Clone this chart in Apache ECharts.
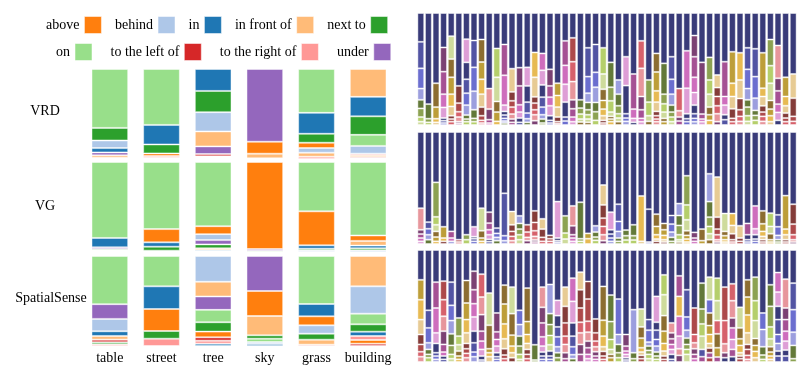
<!DOCTYPE html>
<html>
<head>
<meta charset="utf-8">
<script src="https://cdn.jsdelivr.net/npm/echarts@6/dist/echarts.min.js"></script>
<style>
  html, body { margin: 0; background: #fff; }
  #chart { width: 797px; height: 374px; }
</style>
</head>
<body>
<div id="chart"></div>
<script>
  // ---- left block: predicate share per object, per dataset ----
  const predicates = ['above', 'behind', 'in', 'in front of', 'next to', 'on', 'to the left of', 'to the right of', 'under']
  const predColors = ['#ff7f0e', '#aec7e8', '#1f77b4', '#ffbb78', '#2ca02c', '#98df8a', '#d62728', '#ff9896', '#9467bd']
  const objects = ['table', 'street', 'tree', 'sky', 'grass', 'building']
  const datasetNames = ['VRD', 'VG', 'SpatialSense']

  // one row per object, values in predicate order
  const vrd = [
    [1, 23, 13, 7, 38, 178, 1, 2, 9],
    [8, 1, 59, 3, 27, 169, 0, 5, 0],
    [3, 58, 66, 45, 64, 2, 7, 3, 23],
    [36, 2, 0, 14, 0, 0, 0, 0, 219],
    [16, 14, 63, 12, 27, 132, 0, 7, 0],
    [4, 23, 58, 83, 55, 33, 4, 5, 3],
  ]
  const vg = [
    [3, 0, 28, 2, 4, 227, 0, 0, 5],
    [40, 2, 13, 1, 12, 202, 0, 1, 0],
    [24, 18, 4, 5, 12, 194, 1, 1, 13],
    [261, 0, 0, 0, 0, 4, 0, 0, 5],
    [102, 4, 10, 1, 5, 148, 0, 0, 0],
    [16, 5, 8, 14, 6, 218, 0, 0, 0],
  ]
  const spatialSense = [
    [0, 37, 14, 11, 6, 144, 8, 5, 44],
    [66, 0, 68, 0, 23, 91, 0, 22, 0],
    [17, 77, 7, 44, 28, 37, 10, 9, 40],
    [75, 6, 6, 58, 10, 10, 0, 0, 105],
    [27, 25, 37, 15, 18, 144, 4, 0, 0],
    [11, 82, 13, 91, 22, 32, 7, 12, 0],
  ]

  // ---- right block: 50 objects per dataset, segments listed top -> bottom ----
  const tab20b = ['#393b79', '#5254a3', '#6b6ecf', '#9c9ede', '#637939', '#8ca252', '#b5cf6b', '#cedb9c',
    '#8c6d31', '#bd9e39', '#e7ba52', '#e7cb94', '#843c39', '#ad494a', '#d6616b', '#e7969c',
    '#7b4173', '#a55194', '#ce6dbd', '#de9ed6']

  const vrdSubjColors = [
    [0,1,2,3,4,5,6,7],[0,4,5,6],[0,8,9,10,11],[0,16,17,18,19,0,1,2],[0,7,8,9,10,11,12,13,14],
    [0,12,13,14,15,16,17],[0,19,0,1,2,3,4,5,6],[0,1,2,3,4,5,6],[0,8,9,10,11,12,13,14,15],[0,15,16,17,18],
    [0,6,7,8,9,10],[0,17,18,19,0,1,2,3,4],[0,11,12,13,14,15,16,17],[0,16,17,18,19,0,1],[0,19,0,1,2,3,4],
    [0,10,11,12,13,14,15,16],[0,18,19,0,1,2,3,4,5],[0,16,17,18,19,0,1,2],[0,9,10,11,12,13,14],[0,17,18,19,0,1,2],
    [0,13,14,15,16,17,18,19],[0,4,5,6,7,8],[0,1,2,3,4,5,6,7,8],[0,1,2,3,4,5,6],[0,6,7,8,9,10,11,12,13],
    [0,4,5,6,7,8,9,10],[0,3,4,5,6,7,8],[0,19,0,1,2,3],[0,17,18,19,0],[0,14,15,16,17,18,19],
    [0,5,6,7,8],[0,8,9,10,11,12,13,14,15],[0,4,5,6,7,8,9],[0,1,2,3,4,5,6,7],[0,14,15,16,17],
    [0,18,19,0,1,2],[0,16,17,18,19,0,1,2,3],[0,16,17,18,19],[0,5,6,7,8,9,10],[0,11,12,13,14,15,16],
    [0,17,18,19,0,1],[0,9,10,11,12,13,14],[0,10,11,12,13,14,15],[0,1,2,3,4,5,6,7],[0,1,2,3,4,5,6],
    [0,9,10,11,12,13,14,15],[0,5,6,7,8,9,10,11],[0,15,16,17,18,19,0],[0,9,10,11,12,13,14],[0,11,12,13,14],
  ]
  const vrdSubjShares = [
    [87,80,61,34,26,26,14,10],[275,44,11,8],[212,72,35,11,8],[104,73,68,40,32,8,7,6],[70,69,55,51,37,28,10,8,10],
    [220,52,26,16,14,5,5],[79,70,51,42,36,30,12,8,10],[83,81,72,56,26,10,10],[80,68,52,45,39,26,14,8,6],[228,62,32,10,6],
    [107,87,73,32,28,11],[95,93,90,19,11,10,8,6,6],[168,70,27,19,21,15,10,8],[165,55,57,22,18,13,8],[164,56,49,33,17,11,8],
    [119,75,59,19,20,15,18,13],[122,51,44,37,30,23,13,12,6],[170,50,34,26,30,14,8,6],[212,37,35,30,14,6,4],[84,74,57,54,45,12,12],
    [75,72,60,55,27,25,14,10],[262,25,18,15,9,9],[105,87,50,28,22,15,13,10,8],[95,84,45,46,28,26,14],[105,79,46,34,26,20,14,8,6],
    [149,75,41,34,13,8,8,10],[202,43,35,24,13,11,10],[132,87,85,13,10,11],[184,106,28,12,8],[84,83,85,40,26,10,10],
    [202,67,41,17,11],[122,56,57,34,28,13,10,8,10],[152,93,29,25,19,10,10],[132,68,45,33,21,15,14,10],[228,67,19,12,12],
    [114,113,77,15,9,10],[68,64,62,46,38,26,14,10,10],[149,156,15,8,10],[134,68,43,39,23,17,14],[187,38,27,28,24,24,10],
    [147,105,26,29,15,16],[117,95,40,37,29,10,10],[120,82,56,34,20,15,11],[105,65,58,34,22,26,17,11],[108,84,65,37,15,15,14],
    [120,107,25,28,19,13,15,11],[80,79,53,52,26,20,18,10],[98,99,38,40,25,24,14],[194,58,28,22,15,11,10],[184,73,55,15,11],
  ]

  const vgSubjColors = [
    [0,15,16,17,18,19],[0,1,2,3,4],[0,5,6,7,8,9,10],[0,9,10,12],[0,17,18,3],
    [0,13,14],[0,5,6],[0,19,0,1,2],[0,7,8,9,10],[0,16,17,18,19,0,1],
    [0,1,2,3,4],[0,1,2,3],[0,11,12,13,14,15],[0,3,4,5,6,7],[0,13,14,15,16],
    [0,12,13,14,15,16,17],[0,11,12,13,14],[0,12,13,14],[0,19,0,1,2],[0,5,6,7],
    [0,15,16,17,18,19],[0,4,5,6],[0,9,10],[0,3,4,5,6],[0,11,12,13,14,15,16],
    [0,19,0,1,2,3],[0,1,2,3,4,5],[0,4,5,6],[0,4,5,6],[0,10,11],
    [0,0,3],[0,8,9,10,11,12],[0,8,9,10,11,12],[0,1,2,3,4,5],[0,3,4,5,6,7,8],
    [0,5,6,7,8,9,10,11],[0,16,17,18],[0,8,9],[0,3,4,5,6,7,8],[0,11,12,13,14,15,16],
    [0,7,8,9,10,11],[0,10,11,12,13,14],[0,11,12,13],[0,17,0,1,2],[0,18,19,0,1,2],
    [0,8,9,10,11,12,13],[0,6,7,8,9,10],[0,1,2,3,4,5],[0,9,10,11,12,13],[0,12,13,14,15,16],
  ]
  const vgSubjShares = [
    [230,65,13,12,10,8],[272,20,18,15,13],[152,104,24,20,17,13,8],[286,34,10,8],[300,20,10,8],
    [325,7,6],[310,15,13],[286,30,6,8,8],[230,68,22,10,8],[242,33,20,15,14,7,7],
    [290,16,12,10,10],[185,128,15,10],[240,40,20,15,13,10],[253,23,17,17,15,13],[280,22,16,10,10],
    [238,35,25,17,11,6,6],[262,31,25,12,8],[312,10,8,8],[210,110,8,5,5],[253,52,18,15],
    [223,60,27,10,10,8],[212,110,8,8],[306,16,16],[283,19,15,10,11],[160,60,40,25,25,18,10],
    [242,53,13,12,10,8],[218,52,30,20,10,8],[296,17,13,12],[280,33,13,12],[193,137,8],
    [233,99,6],[248,37,25,13,7,8],[276,19,17,13,7,6],[252,26,24,16,12,8],[216,36,30,28,15,7,6],
    [132,88,45,33,14,11,9,6],[303,17,10,8],[293,35,10],[126,84,47,28,22,18,13],[136,121,36,17,15,7,6],
    [246,54,13,12,7,6],[246,36,25,18,7,6],[283,37,10,8],[276,34,15,7,6],[223,69,18,13,7,8],
    [238,39,23,15,10,7,6],[245,40,22,18,7,6],[250,36,26,13,7,6],[192,101,17,15,7,6],[218,60,32,15,7,6],
  ]

  const ssSubjColors = [
    [0,9,10,11,12,13,14,15],[0,1,2,3,4,5,6],[0,17,18,19,0,1,2,3],[0,13,14,15,16,17,18,0,1],[0,1,2,3,4,5,6,7],
    [0,5,6,7,8,9,10],[0,8,9,10,11,12,13,14,15],[0,16,17,18,19,0,1,2,3],[0,14,15,16,17,18,19,0,1],[0,7,8,9,10,11],
    [0,16,17,18,19,0,1,2],[0,8,9,10,11,12,13,14],[0,7,8,9,10,11,12],[0,2,3,4,5,6,7],[0,8,9,10,11,12,13,14],
    [0,4,5],[0,15,16,17,18,19,0,1,2],[0,3,4,5,6,7,0,1,2],[0,19,0,1,2,3,4,5],[0,11,12,13,14,15,16,17],
    [0,18,19,0,1,2,3,4],[0,11,12,13,14,15,16,17],[0,12,13,14,15,16,17,18,19],[0,12,13,14,15,16,17,18],[0,8,9,10,11,12,13,14],
    [0,4,5,6,7,8,9],[0,2,3,4,5,6],[0,16,17,18,19,0,1],[0,3,4,5],[0,7,8,9,10,11,12,13],
    [0,1,2,3,4,5,6,7],[0,19,0,1,2,3,4,5,6],[0,6,7,8,9,10,11,12,13],[0,15,16,17,18,19,0,1],[0,17,10,18,19,15,16],
    [0,1,2,3,4,5,6,7],[0,13,14,15,16,17,18],[0,4,5,6,7,1,17],[0,7,2,8,9,10,11,12,17,13],[0,6,7,14,8,9,17],
    [0,13,14,15,16,0],[0,14,15,16,18,19,17,0],[0,7,8,9,10,11,12,13],[0,8,9,10,11,12,13,14,15],[0,5,6,7,8,9,10,11],
    [0,2,3,4,5,6],[0,4,5,6,7,8,9,10,11],[0,18,19,0,1,2,3,0,1],[0,15,16,17,18,19,0,1],[0,1,2,3,4,5],
  ]
  const ssSubjShares = [
    [90,60,60,45,30,22,15,16],[182,53,45,20,15,10,13],[97,78,75,32,28,10,10,8],[94,56,50,45,40,23,12,10,8],[97,70,46,40,35,27,13,10],
    [205,55,26,19,15,10,8],[92,68,50,40,32,16,14,13,13],[64,56,42,40,43,35,28,14,16],[73,69,53,50,30,25,20,12,6],[130,97,71,12,12,16],
    [190,57,23,20,20,12,8,8],[106,57,60,45,30,19,11,10],[112,80,65,33,20,15,13],[182,43,35,30,25,15,8],[115,101,39,27,18,15,13,10],
    [286,46,6],[112,61,47,42,28,18,12,10,8],[104,88,33,33,28,19,15,10,8],[152,46,34,30,30,18,15,13],[112,58,50,40,25,25,18,10],
    [85,70,65,40,32,24,12,10],[67,53,55,43,32,35,30,23],[95,53,67,33,27,20,20,13,10],[208,42,25,17,15,13,10,8],[110,102,48,32,14,14,10,8],
    [136,80,54,30,15,10,13],[148,107,30,25,15,13],[255,35,15,10,10,7,6],[180,130,18,10],[178,54,34,29,13,10,10,10],
    [210,32,36,12,13,12,13,10],[140,78,24,28,20,18,12,10,8],[75,60,63,47,37,23,15,10,8],[220,30,18,17,15,15,15,8],[78,62,60,60,38,20,20],
    [120,82,40,24,19,15,15,23],[175,80,25,18,17,13,10],[100,78,45,37,40,22,16],[82,68,40,38,27,27,14,14,15,13],[85,68,60,40,42,28,15],
    [112,101,70,27,15,13],[102,51,52,30,35,30,22,16],[173,62,33,20,22,10,8,10],[90,52,54,54,35,15,18,12,8],[82,71,60,54,21,18,19,13],
    [190,50,52,25,13,8],[105,65,62,36,24,16,12,10,8],[68,59,43,40,45,27,23,15,18],[88,87,35,35,30,27,18,18],[100,80,68,40,40,10],
  ]

  const FONT = 'Liberation Serif'
  const EDGE = { borderColor: 'rgba(255,255,255,0.45)', borderWidth: 1 }

  // predicates sorted per bar: largest on top
  function predSegments(rows) {
    return rows.map((vals) => {
      const idx = vals.map((v, i) => i).filter((i) => vals[i] > 0)
      idx.sort((a, b) => vals[b] - vals[a] || a - b)
      return idx.map((i) => ({ v: vals[i], color: predColors[i] }))
    })
  }

  function subjSegments(colors, shares) {
    return shares.map((hs, b) => hs.map((v, k) => ({ v, color: tab20b[colors[b][k]] })))
  }

  // segs[i] listed top -> bottom; build one stacked series per level (bottom first)
  function stackSeries(segs, axisIdx, stackName, gap) {
    const levels = Math.max(...segs.map((s) => s.length))
    const out = []
    for (let k = 0; k < levels; k++) {
      out.push({
        type: 'bar',
        name: stackName + k,
        stack: stackName,
        xAxisIndex: axisIdx,
        yAxisIndex: axisIdx,
        barCategoryGap: gap,
        data: segs.map((s) => {
          const total = s.reduce((a, d) => a + d.v, 0)
          const d = s[s.length - 1 - k]
          if (!d) return '-'
          return { value: (d.v / total) * 100, itemStyle: { color: d.color, ...EDGE } }
        }),
      })
    }
    return out
  }

  const leftTops = [69, 162, 256]
  const rowLabelPos = [[45, 111], [45, 206], [51, 298]]
  const rightTops = [13, 132, 250]
  const grids = []
  const xAxes = []
  const yAxes = []
  const series = []

  const leftSegs = [predSegments(vrd), predSegments(vg), predSegments(spatialSense)]
  leftSegs.forEach((segs, r) => {
    grids.push({ left: 84, width: 310, top: leftTops[r], height: 90 })
    xAxes.push({
      type: 'category', gridIndex: r, data: objects,
      axisLine: { show: false }, axisTick: { show: false },
      axisLabel: { show: r === 2, interval: 0, margin: 5, color: '#000', fontFamily: FONT, fontSize: 14 },
    })
    yAxes.push({ type: 'value', gridIndex: r, min: 0, max: 100, show: false })
    series.push(...stackSeries(segs, r, 'L' + r, '29%'))
  })

  const rightSegs = [
    subjSegments(vrdSubjColors, vrdSubjShares),
    subjSegments(vgSubjColors, vgSubjShares),
    subjSegments(ssSubjColors, ssSubjShares),
  ]
  rightSegs.forEach((segs, r) => {
    const g = 3 + r
    grids.push({ left: 417, width: 380, top: rightTops[r], height: 112 })
    xAxes.push({ type: 'category', gridIndex: g, data: segs.map((s, i) => i), show: false })
    yAxes.push({ type: 'value', gridIndex: g, min: 0, max: 100, show: false })
    series.push(...stackSeries(segs, g, 'R' + r, '10%'))
  })

  // empty series (sharing the first stack) so the legend can show the predicate colours
  predicates.forEach((p, i) => {
    series.push({
      type: 'bar', name: p, stack: 'L0', xAxisIndex: 0, yAxisIndex: 0,
      barCategoryGap: '29%', data: [], itemStyle: { color: predColors[i] },
    })
  })

  const legendCommon = {
    align: 'right', icon: 'rect', itemWidth: 17, itemHeight: 17,
    textStyle: { color: '#000', fontFamily: FONT, fontSize: 14 },
    itemStyle: { borderColor: 'rgba(255,255,255,0.5)', borderWidth: 1 },
    selectedMode: false, padding: 0,
  }

  const chart = echarts.init(document.getElementById('chart'), null, { renderer: 'canvas' })
  chart.setOption({
    animation: false,
    backgroundColor: '#fff',
    legend: [
      { ...legendCommon, left: 46, top: 16, itemGap: 13, data: predicates.slice(0, 5) },
      { ...legendCommon, left: 56, top: 43, itemGap: 18, data: predicates.slice(5) },
    ],
    grid: grids,
    xAxis: xAxes,
    yAxis: yAxes,
    series,
    graphic: datasetNames.map((name, r) => ({
      type: 'text',
      x: rowLabelPos[r][0],
      y: rowLabelPos[r][1],
      style: { text: name, fill: '#000', font: '14px "' + FONT + '"', textAlign: 'center', textVerticalAlign: 'middle' },
    })),
  })
</script>
</body>
</html>
